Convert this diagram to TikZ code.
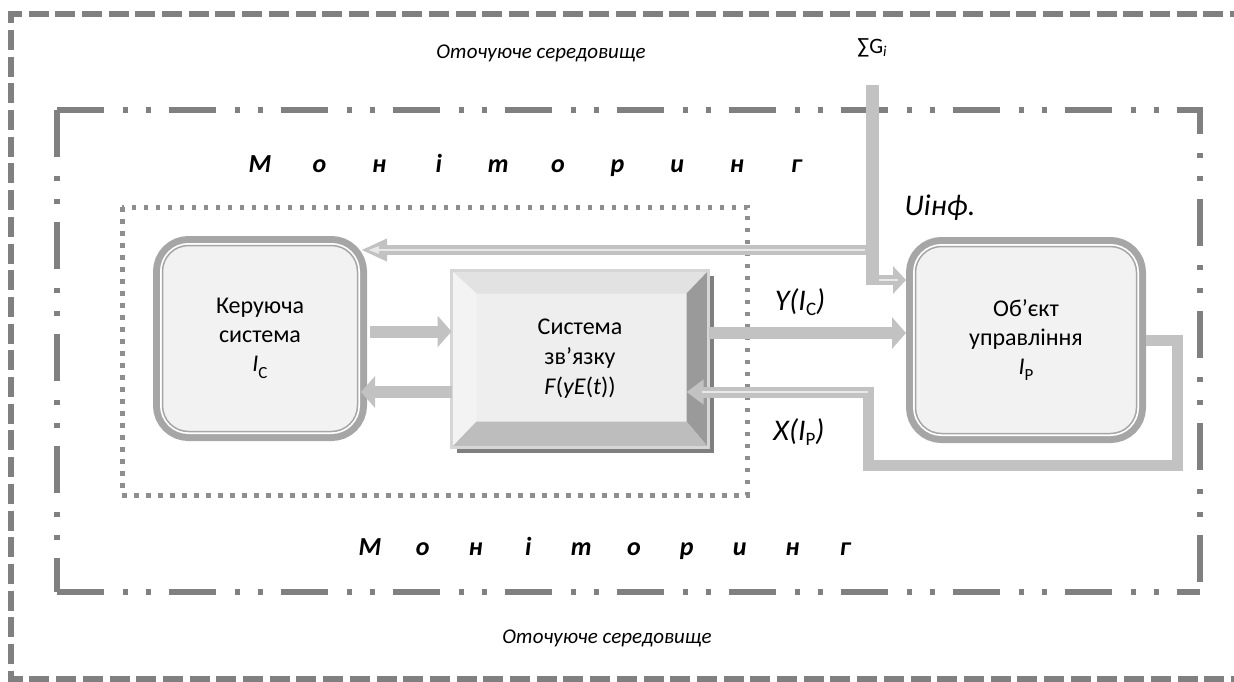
\documentclass[tikz,border=0pt]{standalone}
\usepackage{fontspec}
\setmainfont{Carlito}
\usetikzlibrary{arrows.meta, shadows}

\definecolor{framegray}{HTML}{808080}
\definecolor{dotgray}{HTML}{8E8E8E}
\definecolor{boxgray}{HTML}{A6A6A6}
\definecolor{panel}{HTML}{F2F2F2}
\definecolor{arrowgray}{HTML}{C2C2C2}
\definecolor{coregray}{HTML}{E8E8E8}
\definecolor{bevelline}{HTML}{D6D6D6}
\definecolor{bevelpanel}{HTML}{EEEEEE}
\definecolor{beveltop}{HTML}{E2E2E2}
\definecolor{bevelleft}{HTML}{F3F3F3}
\definecolor{bevelright}{HTML}{9A9A9A}
\definecolor{bevelbottom}{HTML}{BDBDBD}
\definecolor{shadowgray}{HTML}{7F7F7F}

\newcommand{\lowsub}[3]{\raisebox{#1}{\fontsize{#2}{#2}\selectfont #3}}

\begin{document}
\begin{tikzpicture}[
    x=1pt, y=-1pt,
    envframe/.style={draw=framegray, line width=5.5pt, dash pattern=on 20pt off 6.7pt},
    monframe/.style={draw=framegray, line width=5.5pt, dash pattern=on 47pt off 19pt on 5pt off 18pt on 5pt off 18pt},
    sysframe/.style={draw=dotgray, line width=5pt, dash pattern=on 4.5pt off 7.5pt},
    roundbox/.style={draw=boxgray, line width=1.5pt, fill=panel, rounded corners=26pt,
        preaction={draw=boxgray, line width=19pt}, preaction={draw=white, line width=5pt},
        outer sep=9.5pt, align=center, font=\fontsize{24}{29}\selectfont},
    bevelbox/.style={draw=bevelline, line width=3pt, fill=bevelpanel, outer sep=0pt,
        minimum width=257pt, minimum height=177pt, align=center, font=\fontsize{24}{30}\selectfont,
        drop shadow={shadow xshift=5pt, shadow yshift=-5pt, fill=shadowgray, opacity=1}},
    envlabel/.style={font=\fontsize{21}{25}\selectfont\itshape},
    monletter/.style={anchor=base, font=\fontsize{26}{30}\selectfont\bfseries\itshape},
    siglabel/.style={font=\fontsize{30}{34}\selectfont\itshape},
    sumlabel/.style={font=\fontsize{22}{26}\selectfont},
    fatarrow/.style={draw=arrowgray, line width=12pt, -{Triangle[length=14pt, width=31pt]}},
    infoline/.style={draw=arrowgray, line width=10pt},
    infocore/.style={draw=coregray, line width=2.5pt},
    loopline/.style={draw=arrowgray, line width=11pt, -{Triangle[length=17pt, width=24pt]}}
]

% Frames
\draw[envframe] (1250,14) -- (11,14) -- (11,679) -- (1250,679);
\draw[monframe] (57,110) -- (1200,110) -- (1200,592);
\draw[monframe] (57,110) -- (57,592);
\draw[monframe] (57,592) -- (1200,592);
\draw[sysframe] (122,207) rectangle (747,495);

% Labels
\node[envlabel] (envtop) at (541,53) {Оточуюче середовище};
\node[envlabel] (envbot) at (607,638) {Оточуюче середовище};
\node[sumlabel] (sumG) at (872,48) {∑G\lowsub{-0.3ex}{15}{\textit{i}}};
\node[siglabel] (uinf) at (940,208) {Uінф.};
\node[siglabel] (ylab) at (800,302) {Y(I\lowsub{-0.35ex}{19}{\upshape C})};
\node[siglabel] (xlab) at (799,432) {X(I\lowsub{-0.35ex}{19}{\upshape P})};

\foreach \ch [count=\i from 0] in {М,о,н,і,т,о,р,и,н,г} {
    \node[monletter] (montop\i) at (260+59.6*\i,172) {\ch};
    \node[monletter] (monbot\i) at (370+52.8*\i,555) {\ch};
}

% Nodes
\node[roundbox, minimum width=195pt, minimum height=186pt] (ctrl) at (260,338.5)
    {Керуюча\\система\\\textit{I}\lowsub{-0.6ex}{17}{C}};
\node[roundbox, minimum width=221pt, minimum height=187pt] (obj) at (1026,340)
    {Об’єкт\\управління\\\textit{I}\lowsub{-0.6ex}{17}{P}};
\node[bevelbox] (link) at (580,359) {Система\\зв’язку\\\textit{F}(\textit{yE}(\textit{t}))};

% Bevel of the link box
\coordinate (lnw) at ([shift={(25,23)}]link.north west);
\coordinate (lne) at ([shift={(-22,23)}]link.north east);
\coordinate (lse) at ([shift={(-22,-26)}]link.south east);
\coordinate (lsw) at ([shift={(25,-26)}]link.south west);
\fill[beveltop] (link.north west) -- (link.north east) -- (lne) -- (lnw) -- cycle;
\fill[bevelleft] (link.north west) -- (lnw) -- (lsw) -- (link.south west) -- cycle;
\fill[bevelright] (link.north east) -- (link.south east) -- (lse) -- (lne) -- cycle;
\fill[bevelbottom] (link.south west) -- (lsw) -- (lse) -- (link.south east) -- cycle;
\draw[bevelline, line width=3pt] (link.north west) rectangle (link.south east);

% Arrows
\coordinate (c2l) at ([yshift=7pt]ctrl.east);
\coordinate (l2c) at ([yshift=-33pt]link.west);
\coordinate (ctip) at ([xshift=-6pt]ctrl.east);
\coordinate (yout) at ([yshift=26pt]link.east);
\draw[fatarrow] ([xshift=3pt]c2l) -- (c2l -| link.west);
\draw[fatarrow] (l2c) -- (l2c -| ctip);
\draw[fatarrow] (yout) -- (yout -| obj.west);

% Information input
\coordinate (gtop) at (872,85);
\coordinate (gsplit) at (872,250);
\coordinate (gbend) at (872,280);
\draw[infoline, -{Triangle[length=26pt, width=21pt]}] ([xshift=-6pt]gsplit) -- (gsplit -| ctip);
\draw[infocore, -{Triangle[length=11pt, width=7pt]}, shorten >=7pt] ([xshift=-7pt]gsplit) -- (gsplit -| ctip);
\draw[infoline, -{Triangle[length=13pt, width=27pt]}] ([xshift=-6pt]gbend) -- (gbend -| obj.west);
\draw[infocore, shorten >=8pt] ([xshift=7pt]gbend) -- (gbend -| obj.west);
\draw[infoline, line width=13pt] (gtop) -- ([yshift=-5pt]gbend);

% Feedback loop
\coordinate (xr) at (1177,465);
\coordinate (xl) at (868,465);
\coordinate (xin) at ([shift={(-22,33)}]link.east);
\coordinate (xturn) at (xl |- xin);
\draw[loopline] (obj.east) -| (xr) -- (xl) |- (xin);
\draw[infocore, shorten >=15pt] (xturn) -- (xin);

\pgfresetboundingbox
\path[use as bounding box] (0,0) rectangle (1234,681);
\end{tikzpicture}
\end{document}
